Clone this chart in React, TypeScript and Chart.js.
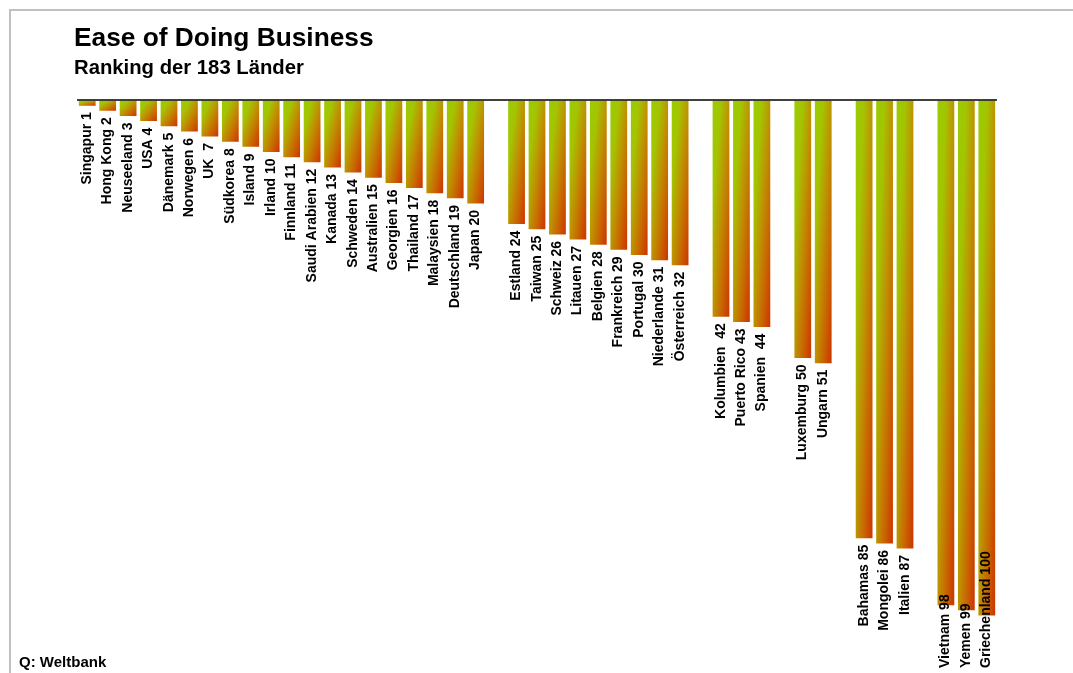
import React, { useEffect, useRef } from "react";
import { Chart, registerables } from "chart.js";

Chart.register(...registerables);

// ---- data ----
const countryLabels: string[] = [
  "Singapur 1", "Hong Kong 2", "Neuseeland 3", "USA 4", "Dänemark 5", "Norwegen 6", "UK  7",
  "Südkorea 8", "Island 9", "Irland 10", "Finnland 11", "Saudi Arabien 12", "Kanada 13",
  "Schweden 14", "Australien 15", "Georgien 16", "Thailand 17", "Malaysien 18", "Deutschland 19",
  "Japan 20", "",
  "Estland 24", "Taiwan 25", "Schweiz 26", "Litauen 27", "Belgien 28", "Frankreich 29",
  "Portugal 30", "Niederlande 31", "Österreich 32", "",
  "Kolumbien  42", "Puerto Rico 43", "Spanien  44", "",
  "Luxemburg 50", "Ungarn 51", "",
  "Bahamas 85", "Mongolei 86", "Italien 87", "",
  "Vietnam 98", "Yemen 99", "Griechenland 100",
];

const ranks: (number | null)[] = [
  1, 2, 3, 4, 5, 6, 7, 8, 9, 10, 11, 12, 13, 14, 15, 16, 17, 18, 19, 20, null,
  24, 25, 26, 27, 28, 29, 30, 31, 32, null,
  42, 43, 44, null,
  50, 51, null,
  85, 86, 87, null,
  98, 99, 100,
];

const titleText = "Ease of Doing Business";
const subtitleText = "Ranking der 183 Länder";
const sourceText = "Q: Weltbank";

// ---- style ----
const FONT = "'Liberation Sans', Arial, sans-serif";
const GRAD_STOPS: [number, string][] = [
  [0, "#9acc00"],
  [0.25, "#a4c400"],
  [0.5, "#bd9400"],
  [0.75, "#c96400"],
  [1, "#cc3300"],
];
const FALLBACK = "#bd9400";
const BAR_PCT = 0.82;
const LABEL_GAP = 6.5;
const LABEL_BOTTOM = 668;

function barGradient(ctx: any) {
  const chart = ctx.chart;
  const xs = chart.scales?.x;
  const ys = chart.scales?.y;
  if (ctx.type !== "data" || !xs || !ys || ctx.raw == null) return FALLBACK;
  const cx = xs.getPixelForValue(ctx.dataIndex);
  const slot = xs.width / countryLabels.length;
  const w = slot * BAR_PCT;
  const left = cx - w / 2;
  const top = ys.getPixelForValue(0);
  const bottom = ys.getPixelForValue(ctx.raw);
  const h = Math.max(1, bottom - top);
  const k = (2 * w * h) / (w * w + h * h);
  const x1 = left + k * h;
  const y1 = top + k * w;
  if (![left, top, x1, y1].every((n) => Number.isFinite(n)) || w <= 0) return FALLBACK;
  const g = chart.ctx.createLinearGradient(left, top, x1, y1);
  GRAD_STOPS.forEach(([o, col]) => g.addColorStop(o, col));
  return g;
}

const decorPlugin = {
  id: "decor",
  afterDraw(chart: any) {
    const c = chart.ctx as CanvasRenderingContext2D;
    const area = chart.chartArea;
    const xs = chart.scales.x;
    const ys = chart.scales.y;
    c.save();
    // frame
    c.strokeStyle = "#c0c0c0";
    c.lineWidth = 2;
    c.strokeRect(10, 10, 2000, 2000);
    // top line
    c.strokeStyle = "#000";
    c.lineWidth = 1.5;
    c.beginPath();
    c.moveTo(area.left, 100);
    c.lineTo(area.right, 100);
    c.stroke();
    // titles
    c.fillStyle = "#000";
    c.textAlign = "left";
    c.textBaseline = "alphabetic";
    c.font = `bold 26.3px ${FONT}`;
    c.fillText(titleText, 74, 46);
    c.font = `bold 20.3px ${FONT}`;
    c.fillText(subtitleText, 74, 74);
    c.font = `bold 15px ${FONT}`;
    c.fillText(sourceText, 19, 667);
    // bar labels
    c.font = `bold 14px ${FONT}`;
    countryLabels.forEach((lab, i) => {
      const v = ranks[i];
      if (v == null || !lab) return;
      const cx = xs.getPixelForValue(i);
      const end = ys.getPixelForValue(v);
      const tw = c.measureText(lab).width;
      const start = Math.min(end + LABEL_GAP + tw, LABEL_BOTTOM);
      c.save();
      c.translate(cx + 3.5, start);
      c.rotate(-Math.PI / 2);
      c.fillText(lab, 0, 0);
      c.restore();
    });
    c.restore();
  },
};

export default function App() {
  const ref = useRef<HTMLCanvasElement | null>(null);
  useEffect(() => {
    if (!ref.current) return;
    const chart = new Chart(ref.current, {
      type: "bar",
      data: {
        labels: countryLabels,
        datasets: [
          {
            data: ranks,
            backgroundColor: barGradient,
            borderWidth: 0,
            categoryPercentage: 1,
            barPercentage: BAR_PCT,
          },
        ],
      },
      options: {
        responsive: false,
        animation: false,
        devicePixelRatio: 1,
        layout: { padding: { left: 77, right: 76, top: 100.5, bottom: 6 } },
        plugins: { legend: { display: false }, tooltip: { enabled: false }, title: { display: false } },
        scales: {
          x: { display: false, offset: true },
          y: { display: false, reverse: true, min: 0, max: 110 },
        },
      },
      plugins: [decorPlugin],
    });
    return () => chart.destroy();
  }, []);
  return (
    <div style={{ position: "absolute", left: 0, top: 0, width: 1073, height: 673, background: "#fff" }}>
      <canvas ref={ref} width={1073} height={673} style={{ width: 1073, height: 673, display: "block" }} />
    </div>
  );
}
